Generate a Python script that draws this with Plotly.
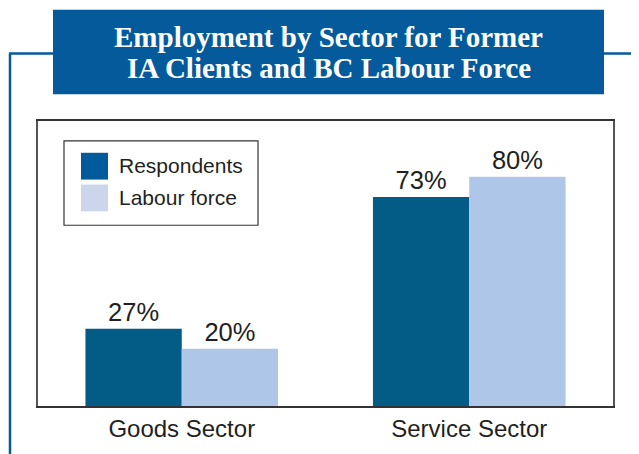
import plotly.graph_objects as go

sectors = ["Goods Sector", "Service Sector"]
respondents = [27, 73]
labour_force = [20, 80]
series_names = ["Respondents", "Labour force"]
title_lines = ["Employment by Sector for Former", "IA Clients and BC Labour Force"]

BLUE = "#045A9B"
TEXT = "#231F20"

# the page body adds an 8px margin, so the figure is drawn 8px smaller
OFF = 8
W, H = 639 - OFF, 454 - OFF
L, T, R, B = 38, 121, 613, 408  # plot area in window pixels

fig = go.Figure()
fig.add_trace(go.Bar(x=sectors, y=respondents, name=series_names[0],
                     marker=dict(color="#035C85", line=dict(width=0)),
                     text=[f"{v}%" for v in respondents], textposition="outside",
                     textfont=dict(size=25.5, color=TEXT), cliponaxis=False))
fig.add_trace(go.Bar(x=sectors, y=labour_force, name=series_names[1],
                     marker=dict(color="#AEC6E7", line=dict(width=0)),
                     text=[f"{v}%" for v in labour_force], textposition="outside",
                     textfont=dict(size=25.5, color=TEXT), cliponaxis=False))

fig.update_layout(
    width=W, height=H,
    margin=dict(l=L - OFF, r=W - (R - OFF), t=T - OFF, b=H - (B - OFF), pad=0),
    paper_bgcolor="white", plot_bgcolor="white",
    font=dict(family="Liberation Sans, Arial", color=TEXT),
    barmode="group", bargap=0.33, bargroupgap=0.0,
    showlegend=False,
)
fig.update_xaxes(range=[-0.5, 1.5], showline=True, linecolor="#333333", linewidth=1.5,
                 mirror=True, showgrid=False, ticks="", tickfont=dict(size=24, color=TEXT))
fig.update_yaxes(range=[0, 99.5], showline=True, linecolor="#555555", linewidth=1.5,
                 mirror=True, showgrid=False, showticklabels=False, ticks="", zeroline=False)


def px(x):
    return (x - L) / (R - L)


def py(y):
    return (B - y) / (B - T)


shapes = [
    # title box and frame
    dict(type="rect", xref="paper", yref="paper", x0=px(53), x1=px(604), y0=py(94), y1=py(9),
         fillcolor=BLUE, line=dict(width=0)),
    dict(type="line", xref="paper", yref="paper", x0=px(10), x1=px(10), y0=py(53), y1=py(470),
         line=dict(color=BLUE, width=2.5)),
    dict(type="line", xref="paper", yref="paper", x0=px(9), x1=px(53), y0=py(53), y1=py(53),
         line=dict(color=BLUE, width=2.5)),
    dict(type="line", xref="paper", yref="paper", x0=px(604), x1=px(650), y0=py(53), y1=py(53),
         line=dict(color=BLUE, width=2.5)),
    # legend box
    dict(type="rect", xref="paper", yref="paper", x0=px(64), x1=px(258), y0=py(226), y1=py(141),
         fillcolor="white", line=dict(color="#333333", width=1.2)),
    dict(type="rect", xref="paper", yref="paper", x0=px(81), x1=px(108), y0=py(180), y1=py(153),
         fillcolor="#005A9C", line=dict(width=0)),
    dict(type="rect", xref="paper", yref="paper", x0=px(81), x1=px(108), y0=py(212), y1=py(185),
         fillcolor="#CBD6EA", line=dict(width=0)),
]
fig.update_layout(shapes=shapes)

title_font = dict(family="Liberation Serif, Times New Roman", size=29, color="white")
annotations = [
    dict(text=f"<b>{title_lines[0]}</b>", xref="paper", yref="paper", x=px(328.5), y=py(36),
         showarrow=False, xanchor="center", yanchor="middle", font=title_font),
    dict(text=f"<b>{title_lines[1]}</b>", xref="paper", yref="paper", x=px(328.5), y=py(68),
         showarrow=False, xanchor="center", yanchor="middle", font=title_font),
    dict(text=series_names[0], xref="paper", yref="paper", x=px(117), y=py(166),
         showarrow=False, xanchor="left", yanchor="middle", font=dict(size=21, color=TEXT)),
    dict(text=series_names[1], xref="paper", yref="paper", x=px(117), y=py(198),
         showarrow=False, xanchor="left", yanchor="middle", font=dict(size=21, color=TEXT)),
]
fig.update_layout(annotations=annotations)

fig.write_html("out.html")
